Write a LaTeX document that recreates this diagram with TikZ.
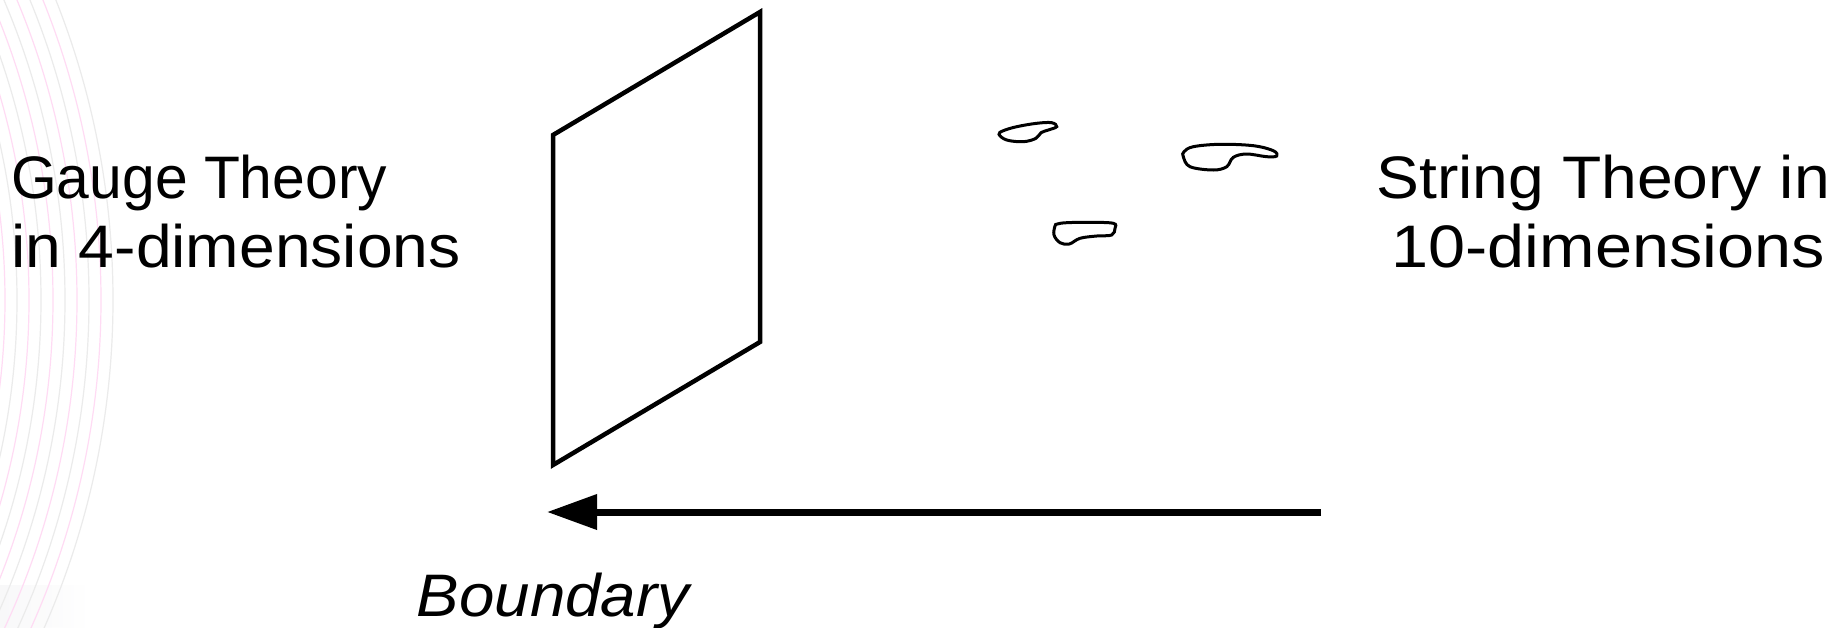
\documentclass[tikz,border=0pt]{standalone}
\usepackage{fontspec}
\setmainfont{Liberation Sans}
\usetikzlibrary{arrows.meta}
\tikzset{
  label/.style={inner sep=0pt, font=\fontsize{60}{69}\selectfont},
  labelit/.style={inner sep=0pt, font=\fontsize{60}{69}\selectfont\itshape},
  plane/.style={line width=4.5pt, line join=miter},
  stringloop/.style={line width=3pt},
  mainarrow/.style={line width=7pt, -{Triangle[length=50pt,width=34pt]}},
  bgpink/.style={line width=1.2pt, draw=red!30!magenta!14},
  bggrey/.style={line width=1.2pt, draw=gray!16},
}
\begin{document}
\begin{tikzpicture}[x=1pt,y=-1pt]
\useasboundingbox (0,0) rectangle (1844,627);
\fill[white] (0,0) rectangle (1844,627);
% faint background streaks at the left edge
\begin{scope}
\clip (0,0) rectangle (1844,627);
\shade[left color=blue!8!gray!6, right color=white, opacity=0.8] (0,585) rectangle (90,627);
\foreach \r [count=\i] in {705,717,729,741,753,765,777,789,801,813} {
  \ifodd\i
    \draw[bgpink] (-700,300) circle[radius=\r];
  \else
    \draw[bggrey] (-700,300) circle[radius=\r];
  \fi
}
\end{scope}
% the boundary plane
\draw[plane] (553,135) coordinate (p1) -- (760,12) coordinate (p2)
  -- (760,342) coordinate (p3) -- (553,465) coordinate (p4) -- cycle;
% closed strings
\draw[stringloop] plot[smooth cycle, tension=0.6] coordinates {
  (999,134.3) (1006.7,140) (1023.3,141.7) (1036,138.3) (1041,132.7)
  (1048.3,130) (1056.7,126.7) (1051.7,122.7) (1036.7,123.3) (1016.7,126.7) (1003.3,130.7)};
\draw[stringloop] plot[smooth cycle, tension=0.6] coordinates {
  (1183.3,156.7) (1190,166.7) (1213.3,170) (1226.7,166.7) (1233.3,157.3)
  (1246.7,154) (1266.7,156.7) (1276.7,156) (1273.3,150.7) (1253.3,145.7)
  (1220,144.3) (1193.3,146.7) (1184,151.7)};
\draw[stringloop] plot[smooth cycle, tension=0.6] coordinates {
  (1055,226) (1054,235) (1060,242.7) (1069.3,244) (1080,238.3) (1096.7,236)
  (1111.7,235) (1115,228.3) (1113.3,223.3) (1090,222.3) (1066.7,222.7) (1057.3,224)};
% labels
\node[label, anchor=base west] (gauge1) at (11,198) {\scalebox{0.98}[1]{Gauge Theory}};
\node[label, anchor=base west] (gauge2) at (11,267) {\scalebox{1.07}[1]{in 4-dimensions}};
\node[label, anchor=base east] (string1) at (1830,198) {\scalebox{1.07}[1]{String Theory in}};
\node[label, anchor=base east] (string2) at (1825,267) {\scalebox{1.11}[1]{10-dimensions}};
\node[labelit, anchor=base] (boundary) at (553,616) {\scalebox{1.06}[1]{Boundary}};
% arrow
\coordinate (arrowstart) at (1321,512);
\coordinate (arrowend) at (547,512);
\draw[mainarrow] (arrowstart) -- (arrowend);
\end{tikzpicture}
\end{document}
